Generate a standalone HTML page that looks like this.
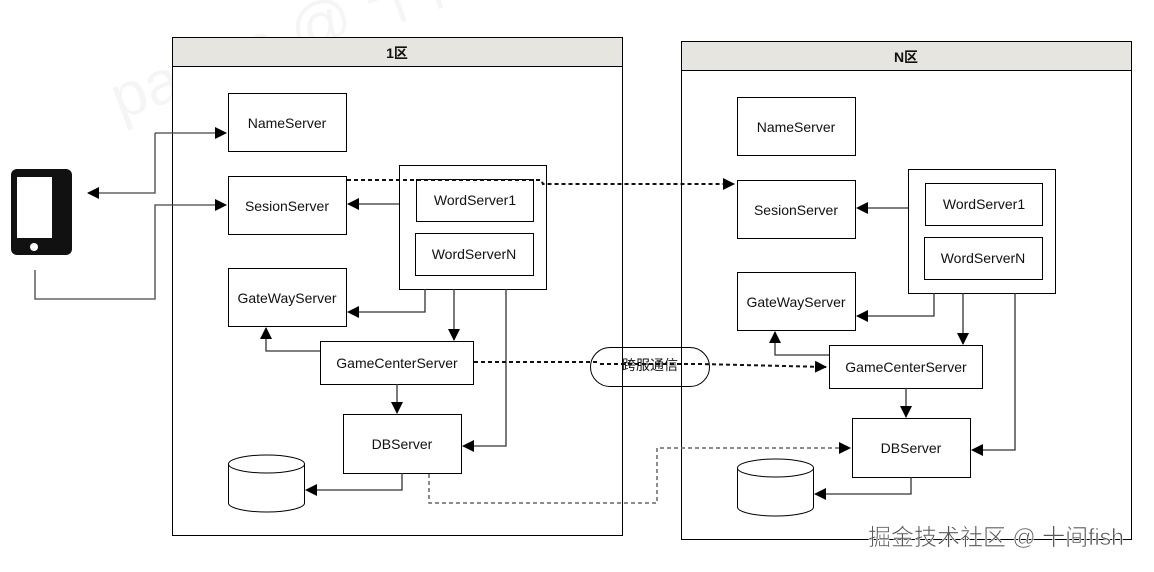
<!DOCTYPE html>
<html><head><meta charset="utf-8"><style>
body{margin:0;background:#fff;width:1154px;height:567px;overflow:hidden}
text{font-family:"Liberation Sans","Noto Sans CJK SC",sans-serif;font-size:14px;fill:#111}
</style></head><body>
<svg width="1154" height="567" viewBox="0 0 1154 567" xmlns="http://www.w3.org/2000/svg">
<defs>
<marker id="a" markerWidth="12" markerHeight="12" refX="11" refY="6" orient="auto" markerUnits="userSpaceOnUse"><path d="M0,0L12,6L0,12z" fill="#000"/></marker>
<g id="zone">
<rect x="172.5" y="37.5" width="450" height="498" fill="#fff" stroke="#000"/>
<rect x="172.5" y="37.5" width="450" height="29" fill="#e6e5df" stroke="#000"/>
<g fill="#fff" stroke="#000">
<rect x="228.5" y="93.5" width="118" height="58"/>
<rect x="228.5" y="176.5" width="118" height="58"/>
<rect x="228.5" y="268.5" width="118" height="58"/>
<rect x="399.5" y="165.5" width="147" height="124"/>
<rect x="416.5" y="179.5" width="117" height="42"/>
<rect x="415.5" y="233.5" width="118" height="42"/>
<rect x="320.5" y="341.5" width="153" height="43"/>
<rect x="343.5" y="414.5" width="118" height="59"/>
<path d="M228.5,464 v39 a38,9 0 0 0 76,0 v-39"/>
<ellipse cx="266.5" cy="464" rx="38" ry="9"/>
</g>
<g text-anchor="middle">
<text x="287" y="128">NameServer</text>
<text x="287" y="211">SesionServer</text>
<text x="287" y="303">GateWayServer</text>
<text x="475" y="205">WordServer1</text>
<text x="474" y="259">WordServerN</text>
<text x="397" y="368">GameCenterServer</text>
<text x="402" y="449">DBServer</text>
</g>
<g fill="none" stroke="#333" stroke-width="1.3" marker-end="url(#a)">
<path d="M399,204H348"/>
<path d="M425,289V312H348"/>
<path d="M454,289V340"/>
<path d="M506,289V446H463"/>
<path d="M320,351H266V328"/>
<path d="M397,384V413"/>
<path d="M402,473V490H306"/>
</g>
</g>
</defs>
<text x="120" y="120" transform="rotate(-20 120 120)" style="font-size:62px;fill:#000;opacity:0.035">padon @ 十间fi</text>
<use href="#zone"/>
<use href="#zone" transform="translate(509,4)"/>
<text x="397" y="58" text-anchor="middle" font-weight="bold">1区</text>
<text x="906" y="62" text-anchor="middle" font-weight="bold">N区</text>
<rect x="11" y="169" width="61" height="86" rx="6" fill="#111"/>
<rect x="17" y="177" width="35" height="61" fill="#fff"/>
<circle cx="34" cy="247" r="4" fill="#fff"/>
<g fill="none" stroke="#444" stroke-width="1.3">
<path d="M155,133V193H88" marker-end="url(#a)"/>
<path d="M155,133H226" marker-end="url(#a)"/>
<path d="M35,270V299H155V205H226" marker-end="url(#a)"/>
</g>
<g fill="none" stroke="#111" stroke-width="2" stroke-dasharray="4,3">
<path d="M347,180H541L543,184H734" marker-end="url(#a)"/>
<path d="M474,362H600"/>
<path d="M600,364H700L826,367" marker-end="url(#a)"/>
</g>
<path d="M429,474V503H657V448H850" fill="none" stroke="#666" stroke-width="1.5" stroke-dasharray="4,3" marker-end="url(#a)"/>
<rect x="590.5" y="347.5" width="119" height="39" rx="19.5" fill="none" stroke="#000"/>
<path d="M600,364H700" stroke="#111" stroke-width="2" stroke-dasharray="4,3"/>
<text x="650" y="370" text-anchor="middle">跨服通信</text>
<text x="996" y="545" text-anchor="middle" style="font-size:23px;fill:#555;stroke:#fff;stroke-width:0.6">掘金技术社区 @ 十间fish</text>
</svg>
</body></html>
